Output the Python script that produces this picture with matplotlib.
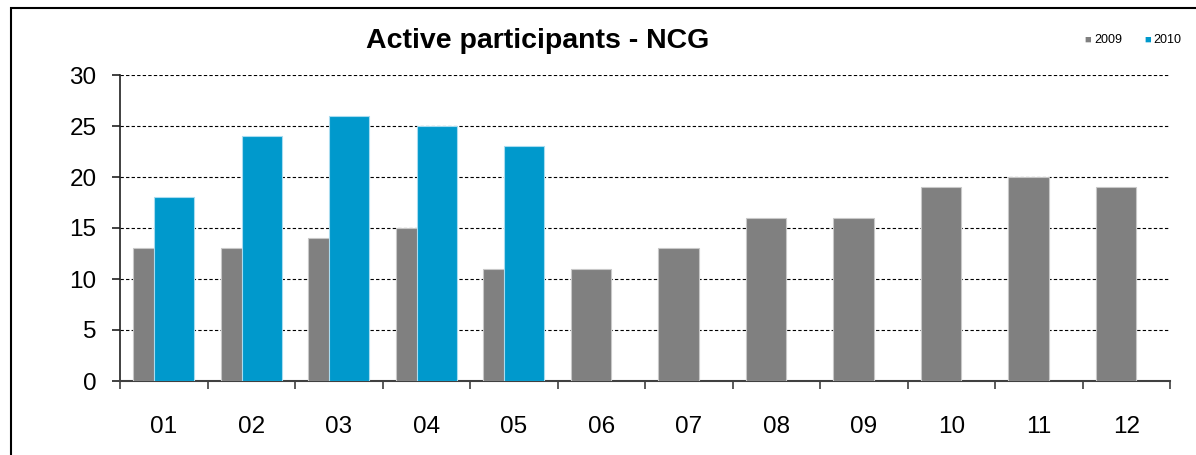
import matplotlib
matplotlib.use("Agg")
import matplotlib.pyplot as plt
from matplotlib.patches import Rectangle
import numpy as np

months = ["01", "02", "03", "04", "05", "06", "07", "08", "09", "10", "11", "12"]
values_2009 = [13, 13, 14, 15, 11, 11, 13, 16, 16, 19, 20, 19]
values_2010 = [18, 24, 26, 25, 23]
series_names = ["2009", "2010"]
title = "Active participants - NCG"
yticks = [0, 5, 10, 15, 20, 25, 30]

plt.rcParams['font.family'] = ['Liberation Sans', 'DejaVu Sans']

W, H = 1196, 455
fig = plt.figure(figsize=(W / 100, H / 100), dpi=100)
fig.patch.set_facecolor('white')

ax = fig.add_axes([120 / W, 1 - 381 / H, (1170 - 120) / W, (381 - 75) / H])

x = np.arange(len(months))
gray = '#808080'
blue = '#0099cc'
width = 0.46

ax.bar(x[:len(values_2009)] - 0.116, values_2009, width=width, color=gray,
       edgecolor='#c8c8c8', linewidth=0.8, zorder=3, label=series_names[0])
ax.bar(x[:len(values_2010)] + 0.119, values_2010, width=width, color=blue,
       edgecolor='#a8dcf0', linewidth=0.8, zorder=4, label=series_names[1])

ax.set_xlim(-0.5, len(months) - 0.5)
ax.set_ylim(0, 30)
ax.set_yticks(yticks)
ax.set_yticklabels([str(v) for v in yticks])
ax.set_xticks(x)
ax.set_xticklabels(months)
ax.set_xticks(np.arange(-0.5, len(months), 1.0), minor=True)

ax.tick_params(axis='x', which='major', length=0, pad=25, labelsize=17.5)
ax.tick_params(axis='x', which='minor', length=6, width=1.2, color='#404040', direction='out')
ax.tick_params(axis='y', length=6, width=1.2, color='#202020', pad=11, labelsize=17.5, direction='out')

for s in ['top', 'right']:
    ax.spines[s].set_visible(False)
ax.spines['left'].set_color('#202020')
ax.spines['left'].set_linewidth(1.2)
ax.spines['bottom'].set_color('#404040')
ax.spines['bottom'].set_linewidth(1.5)

ax.yaxis.grid(True, linestyle=(0, (3, 2)), color='black', linewidth=0.8, zorder=1)
ax.set_axisbelow(True)

fig.text(538 / W, 1 - 41 / H, title, ha='center', va='center',
         fontsize=20.5, fontweight='bold', color='black')

# legend
fig.text(1088 / W, 1 - 40 / H, '\u25a0', color=gray, fontsize=8, ha='center', va='center')
fig.text(1094 / W, 1 - 40 / H, series_names[0], color='black', fontsize=9, ha='left', va='center')
fig.text(1148 / W, 1 - 40 / H, '\u25a0', color=blue, fontsize=8, ha='center', va='center')
fig.text(1153 / W, 1 - 40 / H, series_names[1], color='black', fontsize=9, ha='left', va='center')

# outer frame
fig.patches.append(Rectangle((11 / W, -0.1), 1.2, 1.1 - 8 / H, transform=fig.transFigure,
                             fill=False, edgecolor='black', linewidth=1.5, zorder=10))

fig.savefig('out.png', dpi=100)
